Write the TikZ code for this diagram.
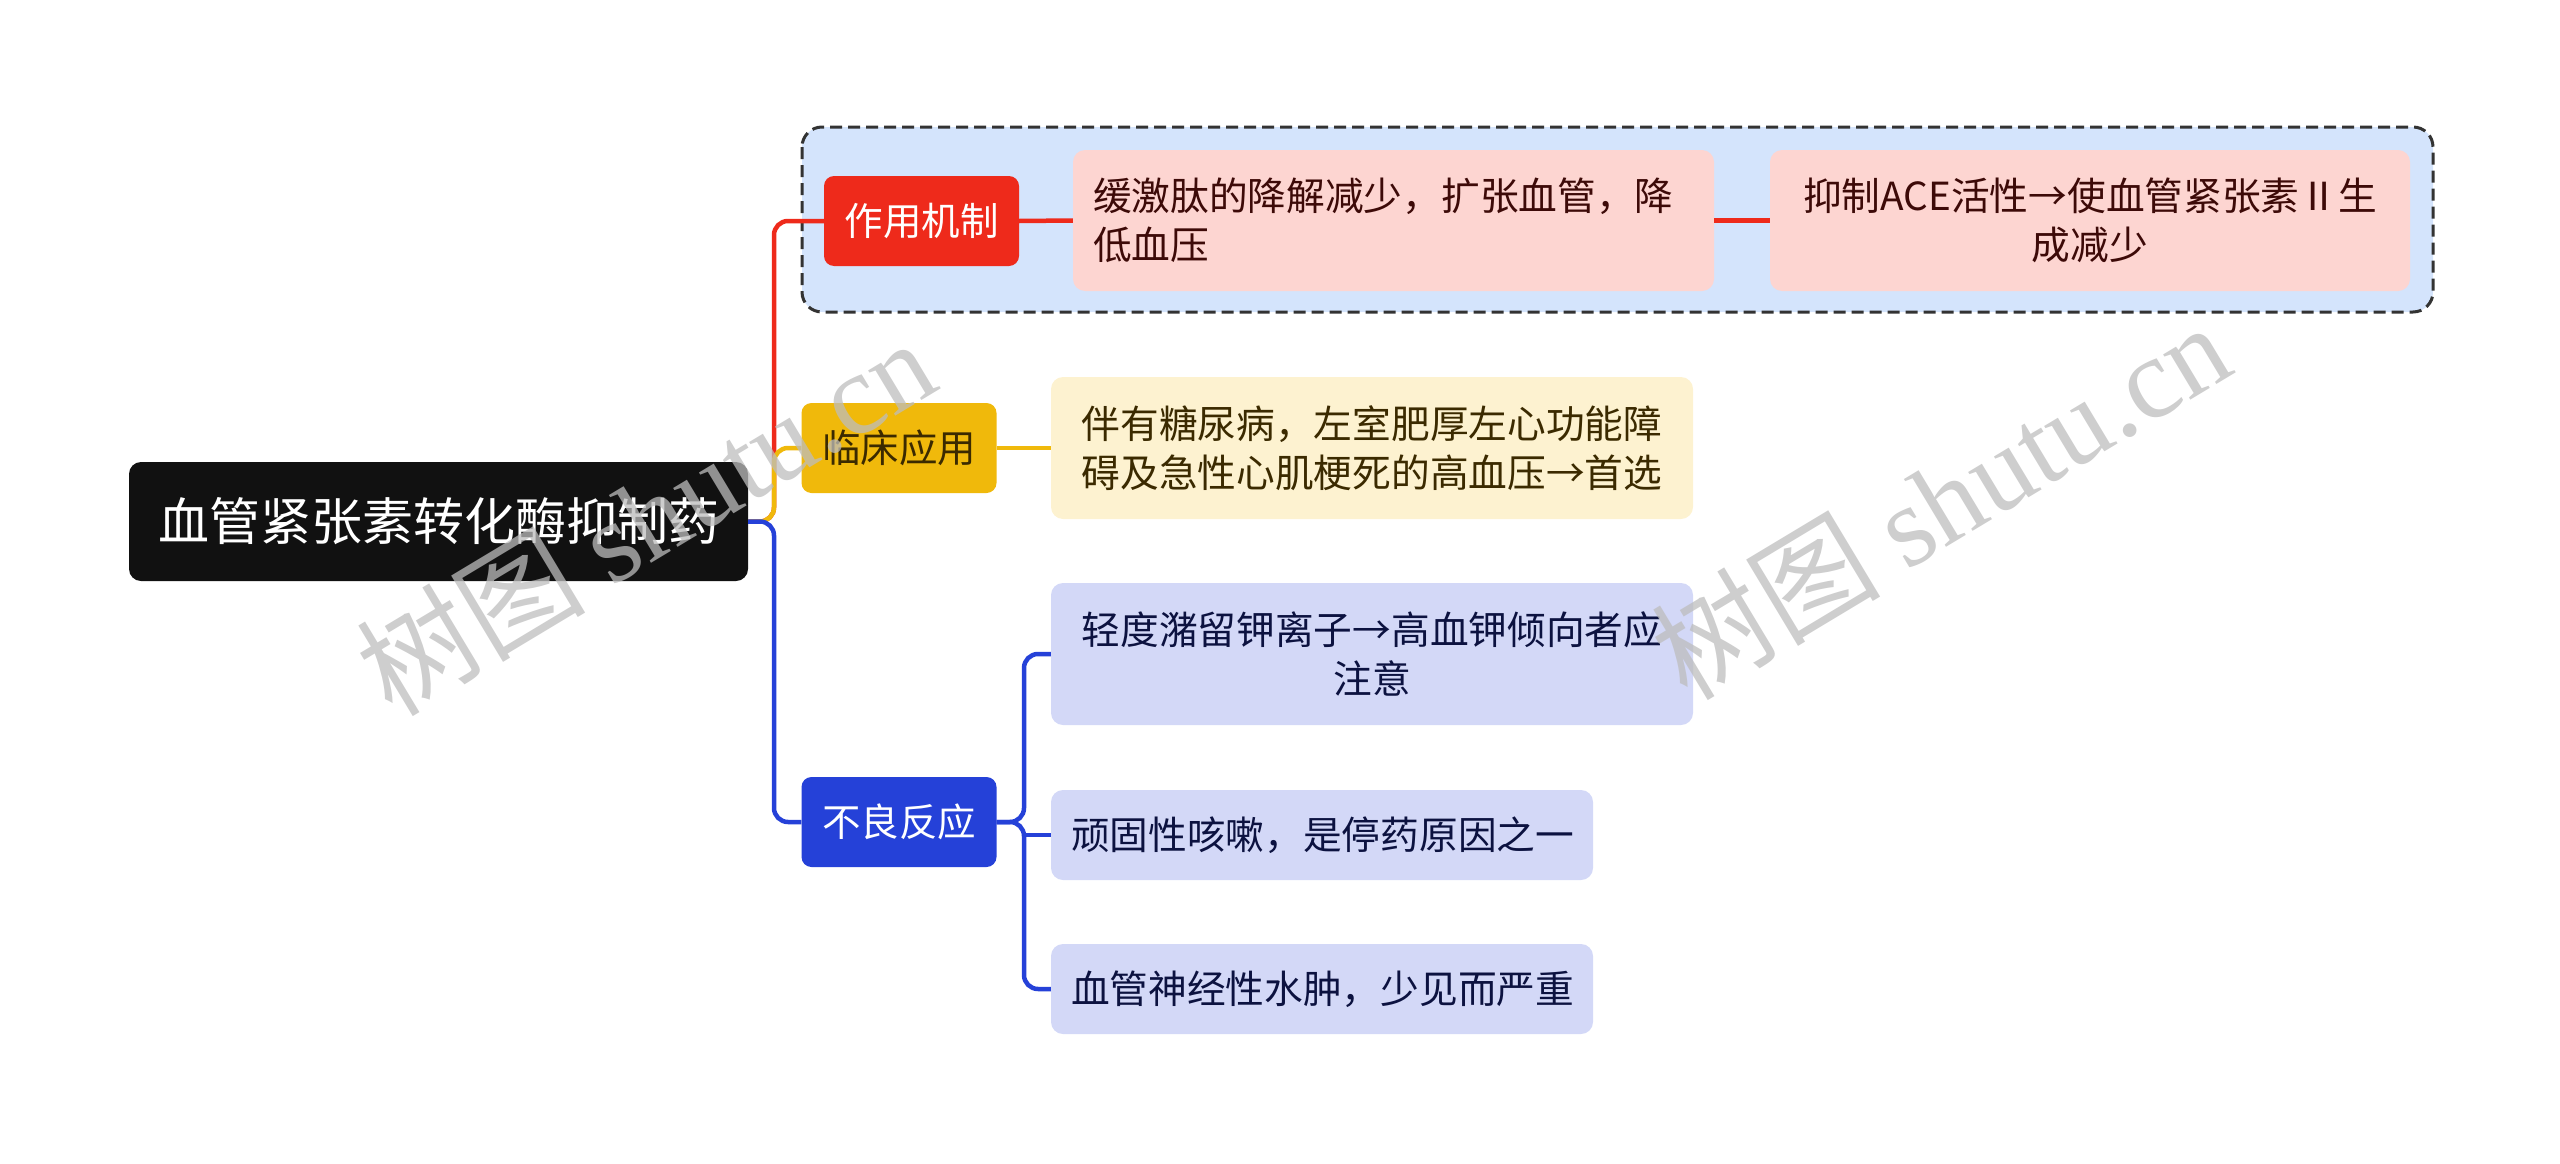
\documentclass[tikz,border=0pt]{standalone}
\usepackage{fontspec}
\setmainfont{Noto Sans CJK SC}
\newfontfamily\wmlatin{Liberation Serif}
\usetikzlibrary{positioning}
\definecolor{rootc}{HTML}{111111}
\definecolor{redc}{HTML}{EE2A1B}
\definecolor{redl}{HTML}{FDD5D1}
\definecolor{redt}{HTML}{3D0A08}
\definecolor{yelc}{HTML}{F0B90B}
\definecolor{yell}{HTML}{FDF2D0}
\definecolor{yelt}{HTML}{3B2A00}
\definecolor{bluc}{HTML}{2541D8}
\definecolor{blul}{HTML}{D3D8F7}
\definecolor{blut}{HTML}{0C1240}
\definecolor{contf}{HTML}{D4E4FC}
\definecolor{contd}{HTML}{333333}
\definecolor{wmc}{HTML}{BDBDBD}
\tikzset{
  rootbox/.style={fill=rootc, text=white, rounded corners=12pt, minimum width=619pt, minimum height=119pt, inner sep=0pt, font=\fontsize{51}{60}\selectfont},
  lvone/.style={rounded corners=10pt, minimum width=195pt, minimum height=90pt, inner sep=0pt, font=\fontsize{38.5}{48}\selectfont},
  leaf/.style={rounded corners=12pt, inner xsep=20pt, inner ysep=0pt, font=\fontsize{38.7}{49}\selectfont},
  conn/.style={line width=4.5pt, rounded corners=14pt},
  wm/.style={text=wmc, opacity=0.75, rotate=31, font=\fontsize{115}{115}\selectfont}
}
\begin{document}
\begin{tikzpicture}[x=1pt,y=-1pt]
\useasboundingbox (0,0) rectangle (2560,1164);
% container
\draw[fill=contf, draw=contd, line width=3pt, dash pattern=on 12pt off 6pt, rounded corners=20pt] (802,127) rectangle (2433,312);
% nodes
\node[rootbox] (root) at (438.5,521.5) {血管紧张素转化酶抑制药};
\node[lvone, fill=redc, text=white] (zy) at (921.5,221) {作用机制};
\node[lvone, fill=yelc, text=yelt] (lc) at (899,448) {临床应用};
\node[lvone, fill=bluc, text=white] (bl) at (899,822) {不良反应};
\node[leaf, fill=redl, text=redt, text width=601pt, minimum height=141pt, align=left] (r1) at (1393.5,220.5) {缓激肽的降解减少，扩张血管，降\\低血压};
\node[leaf, fill=redl, text=redt, text width=600pt, minimum height=141pt, align=center] (r2) at (2090,220.5) {抑制ACE活性→使血管紧张素Ⅱ生\\成减少};
\node[leaf, fill=yell, text=yelt, text width=602pt, minimum height=142pt, align=center] (y1) at (1372,448) {伴有糖尿病，左室肥厚左心功能障\\碍及急性心肌梗死的高血压→首选};
\node[leaf, fill=blul, text=blut, text width=602pt, minimum height=142pt, align=center] (b1) at (1372,654) {轻度潴留钾离子→高血钾倾向者应\\注意};
\node[leaf, fill=blul, text=blut, text width=502pt, minimum height=90pt, align=left] (b2) at (1322,835) {顽固性咳嗽，是停药原因之一};
\node[leaf, fill=blul, text=blut, text width=502pt, minimum height=90pt, align=left] (b3) at (1322,989) {血管神经性水肿，少见而严重};
% connectors
\draw[conn, redc] (root.east) -- (774,521.5) -- (774,221) -- (zy.west);
\draw[conn, yelc] (root.east) -- (774,521.5) -- (774,448) -- (lc.west);
\draw[conn, bluc] (root.east) -- (774,521.5) -- (774,822) -- (bl.west);
\draw[conn, redc] (zy.east) -- (r1.west);
\draw[conn, redc] (r1.east) -- (r2.west);
\draw[conn, yelc] (lc.east) -- (y1.west);
\draw[conn, bluc] (bl.east) -- (1024,822) -- (1024,654) -- (b1.west);
\draw[conn, bluc] (bl.east) -- (1024,822) -- (1024,989) -- (b3.west);
\draw[conn, bluc, rounded corners=0pt] (1024,835) -- (b2.west);
% watermarks
\node[wm] (wm1) at (645,516) {树图 {\wmlatin shutu.cn}};
\node[wm] (wm2) at (1940,500) {树图 {\wmlatin shutu.cn}};
\end{tikzpicture}
\end{document}
